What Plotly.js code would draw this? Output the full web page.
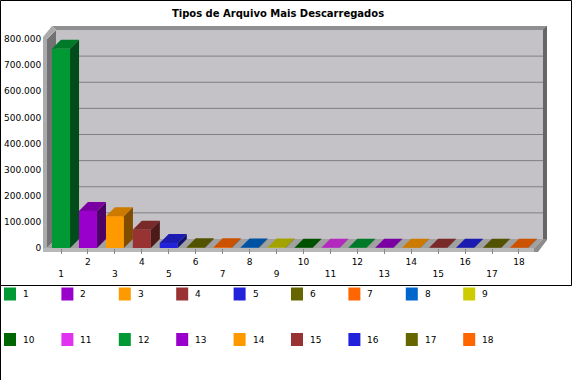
<!DOCTYPE html>
<html><head><meta charset="utf-8">
<script src="https://cdn.plot.ly/plotly-3.0.1.min.js"></script>
<style>html,body{margin:0;padding:0;background:#fff}#chart{width:572px;height:380px}</style>
</head><body><div id="chart"></div>
<script>
// ---- data ----
const categories = ['1','2','3','4','5','6','7','8','9','10','11','12','13','14','15','16','17','18'];
const downloads = [763000,142000,122000,70000,19000,3000,3000,2000,2000,500,500,500,500,500,500,500,500,500];
const colors = ['#009933','#9900CC','#FF9900','#993333','#2222DD','#666600','#FF6600','#0066CC','#CCCC00',
                '#006600','#E033F0','#009933','#9900CC','#FF9900','#993333','#2222DD','#666600','#FF6600'];
const yTickVals = [0,100000,200000,300000,400000,500000,600000,700000,800000];
const chartTitle = 'Tipos de Arquivo Mais Descarregados';

// ---- geometry ----
const W = 572, H = 380;
const ml = 47, mr = 22, mt = 39, mb = 132;
const plotW = W - ml - mr, plotH = H - mt - mb;
const xRange = [-0.52, -0.52 + plotW / 26.94];
const yRange = [0, 800000];
const pxX = plotW / (xRange[1] - xRange[0]);
const pxY = plotH / (yRange[1] - yRange[0]);
const barW = 0.67, depth = 9;
const B = H - mb, L = ml, T = mt;
const FR = 534; // front-right corner of floor (px)
const PX = p => (p - ml) / plotW;
const PY = p => (B - p) / plotH;
const font = 'DejaVu Sans';

function shade(hex, f) {
  const n = parseInt(hex.slice(1), 16);
  const r = Math.round(((n >> 16) & 255) * f), g = Math.round(((n >> 8) & 255) * f), b = Math.round((n & 255) * f);
  return `rgb(${r},${g},${b})`;
}
function poly(pts, fill) {
  return {type:'path', xref:'paper', yref:'paper', layer:'below',
    path: 'M' + pts.map(p => PX(p[0]).toFixed(5) + ',' + PY(p[1]).toFixed(5)).join('L') + 'Z',
    fillcolor: fill, line:{width:0}};
}

const traces = categories.map((c, i) => ({
  type:'bar', x:[c], y:[downloads[i]], name:c, width:barW,
  marker:{color:colors[i], line:{width:0}}, hoverinfo:'x+y'
}));

const shapes = [];
// back wall
shapes.push(poly([[L+depth,T-depth],[FR+depth,T-depth],[FR+depth,B-depth],[L+depth,B-depth]], '#C4C2C6'));
shapes.push(poly([[L+5,T-13],[FR+depth+4,T-13],[FR+depth+4,T-depth],[L+depth,T-depth]], '#909090'));
shapes.push(poly([[FR+depth,T-depth],[FR+depth+4,T-13],[FR+depth+4,B-depth],[FR+depth,B-depth]], '#666666'));
// gridlines on back wall
yTickVals.slice(1, -1).forEach(v => shapes.push({
  type:'line', xref:'paper', yref:'y', ysizemode:'pixel', yanchor:v, layer:'below',
  x0:PX(L+depth), x1:PX(FR+depth), y0:depth, y1:depth, line:{color:'#808080', width:1}
}));
// left wall
shapes.push(poly([[L,B],[L,T],[L+depth,T-depth],[L+depth,B-depth]], '#727272'));
shapes.push(poly([[L-4,B+4],[L-4,T-2],[L+5,T-13],[L+depth,T-depth],[L,T],[L,B+4]], '#ABABAB'));
// floor
shapes.push(poly([[L,B],[FR,B],[FR+depth,B-depth],[L+depth,B-depth]], '#A0A0A0'));
shapes.push(poly([[L-4,B],[FR,B],[FR,B+4],[L-4,B+4]], '#B8B8B8'));
shapes.push(poly([[FR,B],[FR+depth,B-depth],[FR+depth+4,B-depth],[FR+depth+4,B-depth+1],[FR+4,B+4],[FR,B+4]], '#8C8C8C'));
// bar top & side faces
downloads.forEach((v, i) => {
  const hw = barW / 2 * pxX, h = v * pxY;
  shapes.push({type:'path', xref:'x', yref:'y', xsizemode:'pixel', ysizemode:'pixel', xanchor:i, yanchor:v, layer:'above',
    path:`M${-hw},0L${hw},0L${hw+depth},${depth}L${-hw+depth},${depth}Z`, fillcolor:shade(colors[i],0.8), line:{width:0}});
  shapes.push({type:'path', xref:'x', yref:'y', xsizemode:'pixel', ysizemode:'pixel', xanchor:i, yanchor:v, layer:'above',
    path:`M${hw},0L${hw+depth},${depth}L${hw+depth},${depth-h}L${hw},${-h}Z`, fillcolor:shade(colors[i],0.5), line:{width:0}});
});
// frame
shapes.push({type:'rect', xref:'paper', yref:'paper', x0:PX(0.5), x1:PX(571.5), y0:PY(0.5), y1:PY(285.5),
  line:{color:'#000', width:1}, fillcolor:'rgba(0,0,0,0)', layer:'above'});
shapes.push({type:'line', xref:'paper', yref:'paper', x0:PX(0.5), x1:PX(0.5), y0:PY(285.5), y1:PY(380),
  line:{color:'#000', width:1}, layer:'above'});

// legend (2 rows of 9 entries)
const annotations = [];
const legStep = 57.4, legRows = [294, 339.5];
categories.forEach((c, i) => {
  const col = i % 9, row = Math.floor(i / 9);
  const x0 = 4 + col * legStep, yc = legRows[row];
  shapes.push({type:'rect', xref:'paper', yref:'paper', layer:'above',
    x0:PX(x0), x1:PX(x0 + 12), y0:PY(yc - 6.5), y1:PY(yc + 6.5), fillcolor:colors[i], line:{width:0}});
  annotations.push({xref:'paper', yref:'paper', x:PX(x0 + 17), y:PY(yc), xanchor:'left', yanchor:'middle',
    text:c, showarrow:false, font:{family:font, size:9, color:'#000'}});
});

const layout = {
  width:W, height:H, margin:{l:ml, r:mr, t:mt, b:mb, pad:0, autoexpand:false},
  paper_bgcolor:'#fff', plot_bgcolor:'rgba(0,0,0,0)',
  separators:',.',
  title:{text:chartTitle, x:278/W, xanchor:'center', xref:'container', y:1-13/H, yanchor:'middle', yref:'container',
    font:{family:font, size:10, weight:'bold', color:'#000'}},
  barmode:'overlay', showlegend:false,
  xaxis:{type:'category', range:xRange, tickmode:'array', tickvals:categories,
    ticktext:categories.map((c, i) => i % 2 === 0 ? '<br>' + c : c),
    showgrid:false, zeroline:false, showline:false, ticks:'outside', ticklen:5, tickcolor:'#888', tickwidth:1,
    tickfont:{family:font, size:9, color:'#000'}, fixedrange:true},
  yaxis:{range:yRange, tickmode:'array', tickvals:yTickVals, tickformat:',d', showgrid:false, zeroline:false,
    showline:false, ticks:'outside', ticklen:3, tickcolor:'rgba(0,0,0,0)',
    tickfont:{family:font, size:9, color:'#000'}, fixedrange:true},
  shapes:shapes, annotations:annotations
};
Plotly.newPlot('chart', traces, layout, {displayModeBar:false, staticPlot:true});
</script></body></html>
